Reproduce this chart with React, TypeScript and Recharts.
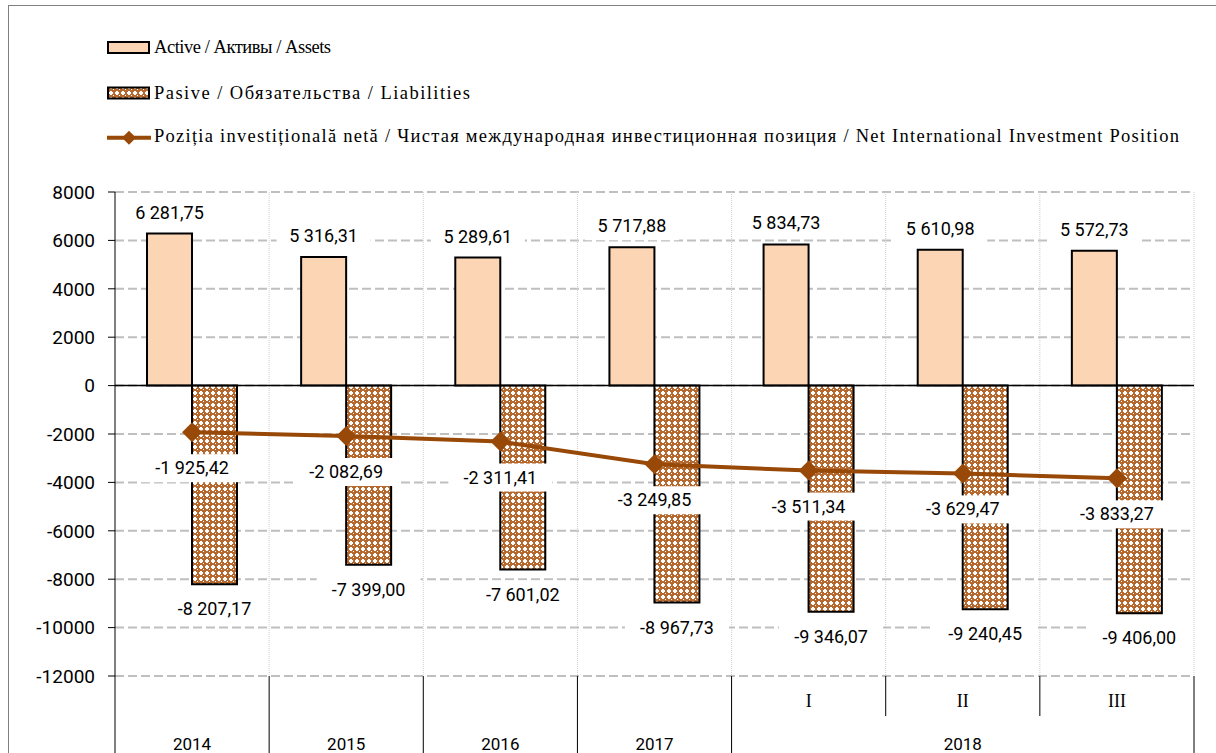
import React from 'react';
import {
  ComposedChart, Bar, Line, XAxis, YAxis, CartesianGrid, ReferenceLine, LabelList,
} from 'recharts';

// periods on the axis; the 2018 quarters share one year label
const periods = ['2014', '2015', '2016', '2017', 'I', 'II', 'III'];
const years = ['2014', '2015', '2016', '2017', '2018', '2018', '2018'];

const assets = [6281.75, 5316.31, 5289.61, 5717.88, 5834.73, 5610.98, 5572.73];
const liabilities = [-8207.17, -7399.0, -7601.02, -8967.73, -9346.07, -9240.45, -9406.0];
const netPosition = [-1925.42, -2082.69, -2311.41, -3249.85, -3511.34, -3629.47, -3833.27];

const yTicks = [8000, 6000, 4000, 2000, 0, -2000, -4000, -6000, -8000, -10000, -12000];

const seriesNames = [
  'Active / Активы / Assets',
  'Pasive / Обязательства / Liabilities',
  'Poziția investițională netă / Чистая международная инвестиционная позиция / Net International Investment Position',
];

const data = periods.map((p, i) => ({
  period: p,
  assets: assets[i],
  liabilities: liabilities[i],
  net: netPosition[i],
}));

const W = 1216;
const H = 800;
const margin = { top: 192, right: 22, bottom: 0, left: 0 };
const Y_AXIS_W = 115;
const X_AXIS_H = 124;
const band = (W - margin.left - margin.right - Y_AXIS_W) / periods.length;

const PEACH = '#FCD5B5';
const BROWN = '#984807';
const PATTERN_BROWN = '#B5692E';
const NUM_FONT = 'Roboto, "Open Sans", sans-serif';
const SERIF = '"Liberation Serif", serif';

const fmt = (v: number) => {
  const [int, dec] = Math.abs(v).toFixed(2).split('.');
  const grouped = int.replace(/\B(?=(\d{3})+(?!\d))/g, ' ');
  return (v < 0 ? '-' : '') + grouped + ',' + dec;
};

const BoxText = ({ cx, cy, text }: { cx: number; cy: number; text: string }) => {
  const w = text.length * 10 + 14;
  return (
    <g>
      <rect x={cx - w / 2} y={cy - 14} width={w} height={28} fill="#fff" />
      <text x={cx} y={cy + 6} textAnchor="middle" fontSize={18} fontFamily={NUM_FONT} fill="#000">
        {text}
      </text>
    </g>
  );
};

const box = (props: any) => {
  const vb = props.viewBox || {};
  const x = vb.x ?? props.x;
  const y = vb.y ?? props.y;
  const width = vb.width ?? props.width ?? 0;
  const height = vb.height ?? props.height ?? 0;
  return { x, y, width, height };
};

const AssetLabel = (props: any) => {
  const { x, y, width, height } = box(props);
  const top = Math.min(y, y + height);
  return <BoxText cx={x + width / 2} cy={top - 21} text={fmt(props.value)} />;
};

const LiabilityLabel = (props: any) => {
  const { x, y, width, height } = box(props);
  const bottom = Math.max(y, y + height);
  return <BoxText cx={x + width / 2} cy={bottom + 25} text={fmt(props.value)} />;
};

const NetLabel = (props: any) => {
  const { x, y } = box(props);
  return <BoxText cx={x} cy={y + 36} text={fmt(props.value)} />;
};

const Diamond = (props: any) => {
  const { cx, cy } = props;
  if (cx == null || cy == null) return null;
  return <path d={`M${cx},${cy - 10}L${cx + 10},${cy}L${cx},${cy + 10}L${cx - 10},${cy}Z`} fill={BROWN} />;
};

const PeriodTick = (props: any) => {
  const { x, y, payload } = props;
  const i = payload.index;
  const left = x - band / 2;
  const groupStart = i === 0 || years[i] !== years[i - 1];
  const groupEnd = i === years.length - 1 || years[i] !== years[i + 1];
  let runEnd = i;
  while (runEnd + 1 < years.length && years[runEnd + 1] === years[i]) runEnd++;
  const grouped = !(groupStart && groupEnd);
  return (
    <g>
      <line x1={left} x2={left} y1={y} y2={groupStart ? y + 90 : y + 40} stroke="#000" strokeWidth={1} />
      {i === periods.length - 1 && (
        <line x1={x + band / 2} x2={x + band / 2} y1={y} y2={y + 90} stroke="#000" strokeWidth={1} />
      )}
      {grouped && (
        <text x={x} y={y + 31} textAnchor="middle" fontSize={18} fontFamily={SERIF} fill="#000">
          {periods[i]}
        </text>
      )}
      {groupStart && (
        <text x={x + ((runEnd - i) / 2) * band} y={y + 74} textAnchor="middle" fontSize={17} fontFamily={NUM_FONT} fill="#000">
          {years[i]}
        </text>
      )}
    </g>
  );
};

const PatternDef = ({ id }: { id: string }) => (
  <pattern id={id} width={6} height={6} patternUnits="userSpaceOnUse">
    <rect width={6} height={6} fill={PATTERN_BROWN} />
    <rect x={2} y={1} width={2} height={4} fill="#fff" />
    <rect x={1} y={2} width={4} height={2} fill="#fff" />
    <rect x={5} y={5} width={1} height={1} fill="#fff" />
  </pattern>
);

// legend rows: icon centre y, text baseline, text span
const legendRows = [
  { cy: 47.5, base: 53.3, len: 177 },
  { cy: 93, base: 98.5, len: 316 },
  { cy: 137.7, base: 142, len: 1025 },
];

const LegendBlock = () => (
  <svg width={1216} height={160} style={{ position: 'absolute', left: 0, top: 0 }}>
    <defs>
      <PatternDef id="liabPatternLegend" />
    </defs>
    {seriesNames.map((name, i) => {
      const r = legendRows[i];
      return (
        <g key={name}>
          {i === 0 && <rect x={108} y={r.cy - 5.5} width={41} height={11} fill={PEACH} stroke="#000" strokeWidth={2} />}
          {i === 1 && <rect x={108} y={r.cy - 5.5} width={41} height={11} fill="url(#liabPatternLegend)" stroke="#000" strokeWidth={2} />}
          {i === 2 && (
            <g>
              <line x1={107} x2={151} y1={r.cy} y2={r.cy} stroke={BROWN} strokeWidth={4} />
              <path d={`M129,${r.cy - 7}L136,${r.cy}L129,${r.cy + 7}L122,${r.cy}Z`} fill={BROWN} />
            </g>
          )}
          <text x={154} y={r.base} fontSize={18.5} fontFamily={SERIF} fill="#000" textLength={r.len} lengthAdjust="spacing">
            {name}
          </text>
        </g>
      );
    })}
  </svg>
);

export default function App() {
  return (
    <div style={{ position: 'fixed', left: 0, top: 0, width: 1216, height: 753, overflow: 'hidden', background: '#fff' }}>
      <div style={{ position: 'absolute', left: 8, top: 5, width: 1260, height: 820, border: '1px solid #7f7f7f', boxSizing: 'border-box' }} />
      <div style={{ position: 'absolute', left: 0, top: 0 }}>
        <ComposedChart width={W} height={H} data={data} margin={margin} barGap={0} barSize={45}>
          <defs>
            <PatternDef id="liabPattern" />
          </defs>
          <CartesianGrid vertical={false} stroke="#BFBFBF" strokeWidth={2} strokeDasharray="9 4" />
          <CartesianGrid
            horizontal={false}
            stroke="#CFCFCF"
            strokeWidth={1}
            strokeDasharray="1 1"
            verticalCoordinatesGenerator={({ offset }: any) =>
              periods.map((_, i) => offset.left + ((i + 1) * offset.width) / periods.length)
            }
          />
          <XAxis
            dataKey="period"
            height={X_AXIS_H}
            axisLine={false}
            tickLine={false}
            tickSize={0}
            tickMargin={0}
            interval={0}
            tick={<PeriodTick />}
          />
          <YAxis
            width={Y_AXIS_W}
            domain={[-12000, 8000]}
            ticks={yTicks}
            interval={0}
            axisLine={{ stroke: '#000', strokeWidth: 1 }}
            tickLine={{ stroke: '#000', strokeWidth: 1 }}
            tickSize={7}
            tickMargin={13}
            tick={{ fontSize: 19, fontFamily: NUM_FONT, fill: '#000' }}
            tickFormatter={(v: number) => String(v)}
          />
          <Bar dataKey="assets" name={seriesNames[0]} fill={PEACH} stroke="#000" strokeWidth={2} isAnimationActive={false}>
            <LabelList dataKey="assets" content={<AssetLabel />} />
          </Bar>
          <Bar dataKey="liabilities" name={seriesNames[1]} fill="url(#liabPattern)" stroke="#000" strokeWidth={2} isAnimationActive={false}>
            <LabelList dataKey="liabilities" content={<LiabilityLabel />} />
          </Bar>
          <ReferenceLine y={0} stroke="#000" strokeWidth={1.5} />
          <Line
            dataKey="net"
            name={seriesNames[2]}
            stroke={BROWN}
            strokeWidth={4}
            dot={(p: any) => <Diamond key={p.index} {...p} />}
            activeDot={false}
            isAnimationActive={false}
          >
            <LabelList dataKey="net" content={<NetLabel />} />
          </Line>
        </ComposedChart>
      </div>
      <LegendBlock />
    </div>
  );
}
